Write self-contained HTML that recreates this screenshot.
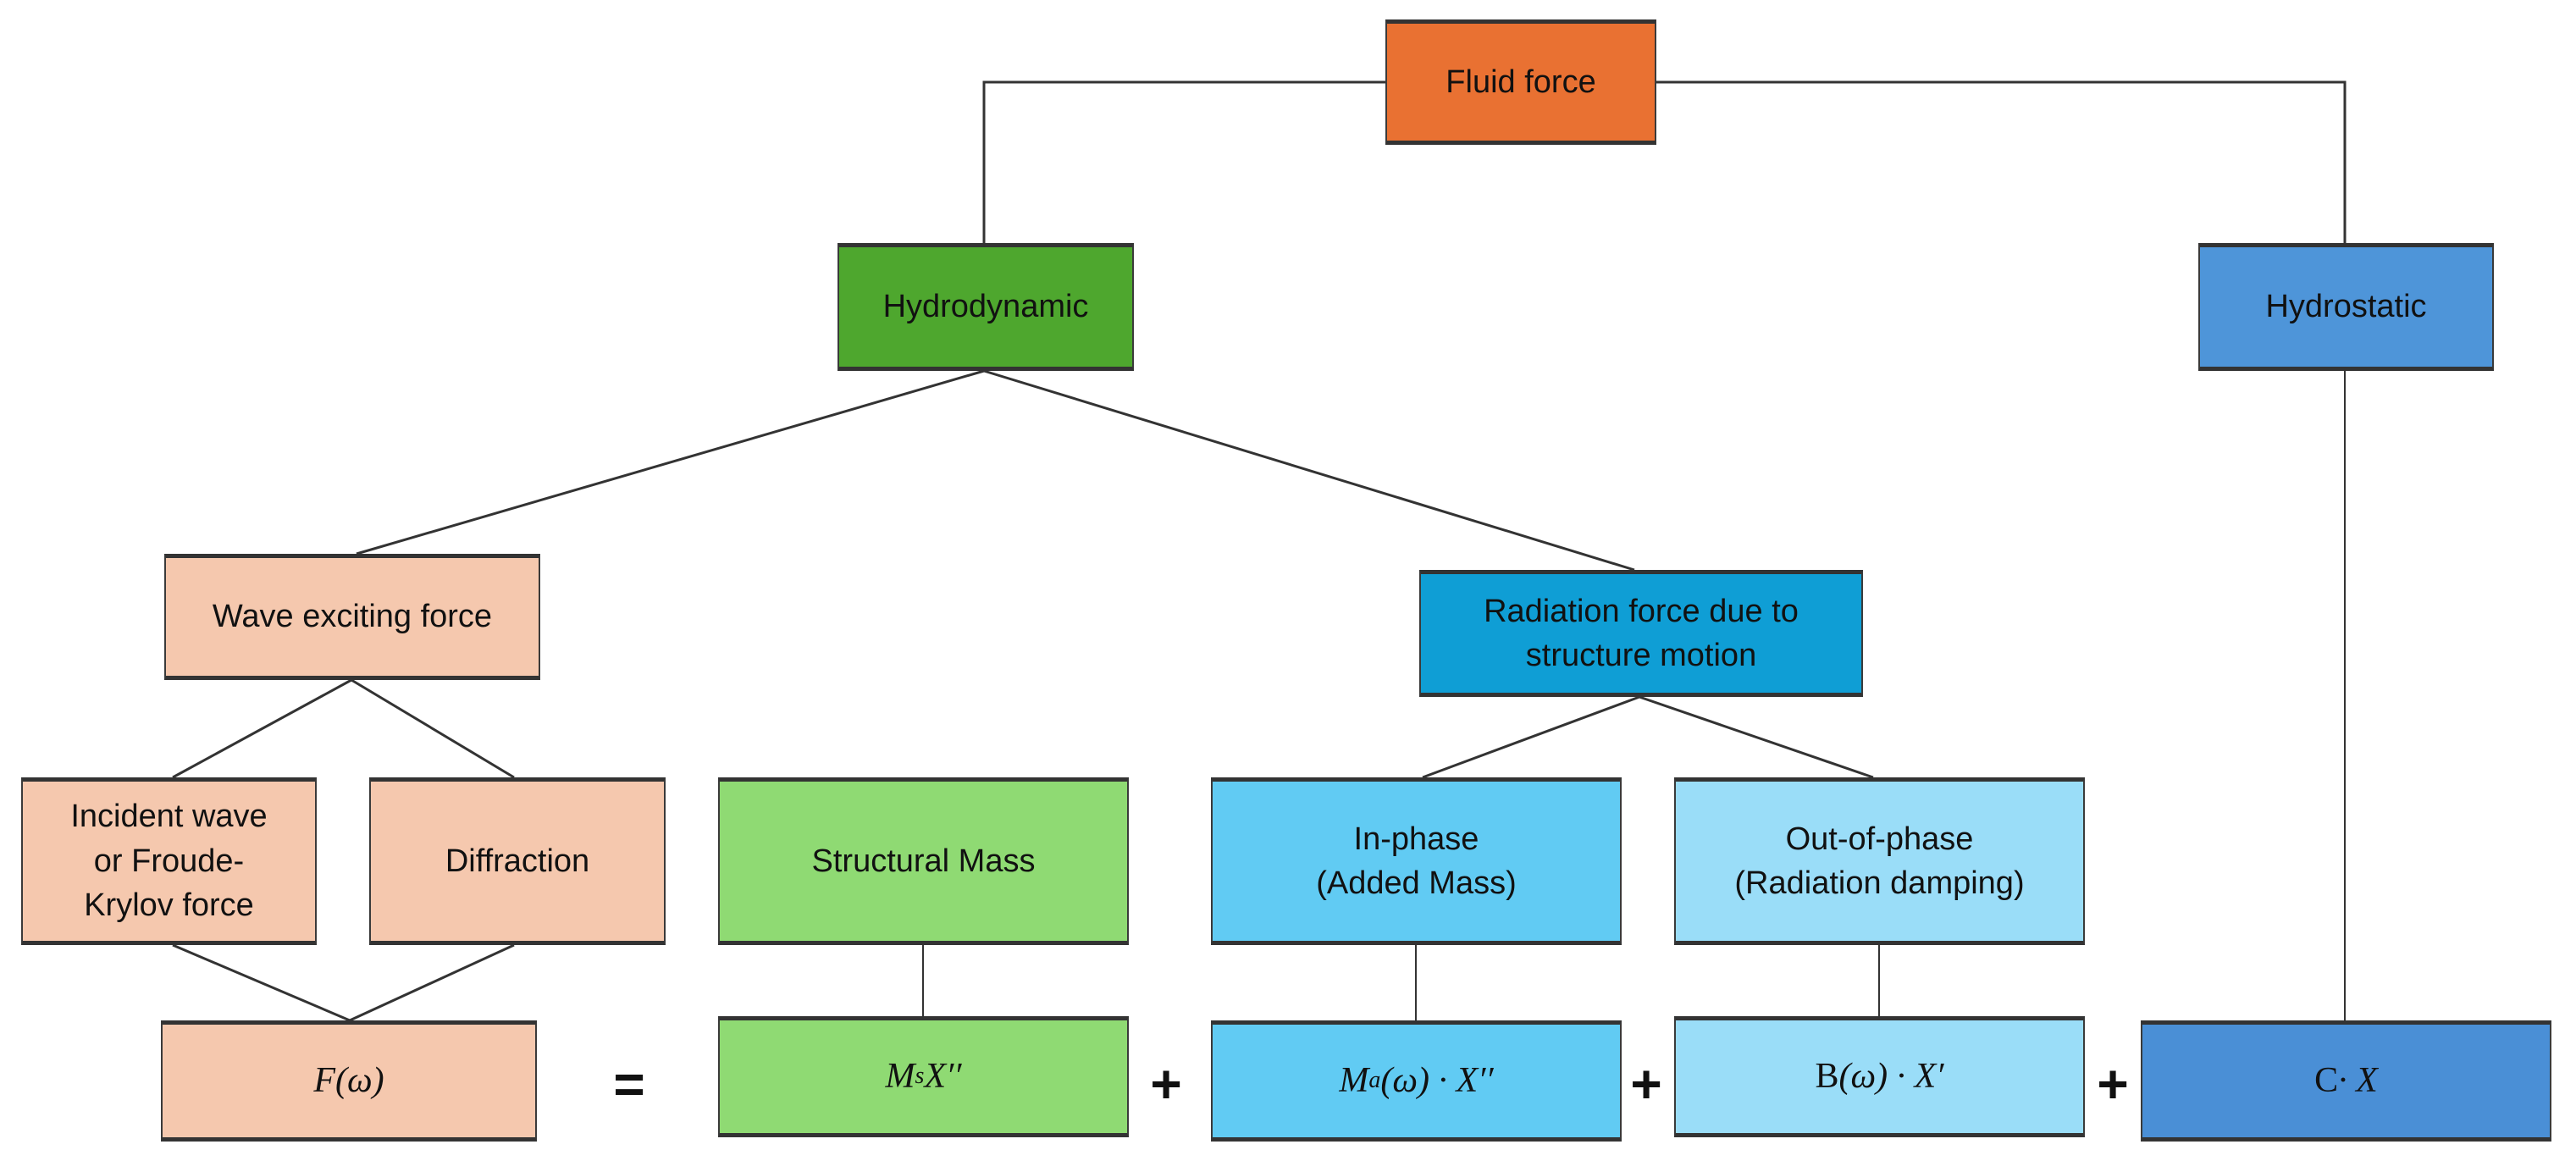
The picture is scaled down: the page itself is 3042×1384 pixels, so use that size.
<!DOCTYPE html>
<html><head><meta charset="utf-8"><style>
body{margin:0;width:3042px;height:1384px;background:#fff;position:relative;overflow:hidden;font-family:"Liberation Sans",sans-serif}
.b{position:absolute;display:flex;align-items:center;justify-content:center;text-align:center;box-sizing:border-box;border:2px solid #3a3a3a;border-top:5px solid #333;border-bottom:5px solid #333;font-size:38px;line-height:1.38;color:#111}
.m{font-family:"Liberation Serif",serif;font-style:italic;font-size:42px}
.m sub{font-size:28px;vertical-align:-8px}
.op{position:absolute;font-size:64px;font-weight:bold;color:#111;transform:translate(-50%,-50%)}
svg{position:absolute;left:0;top:0}
</style></head><body>
<svg width="3042" height="1384"><g stroke="#333" stroke-width="3" fill="none">
<polyline points="1636,97 1162,97 1162,287"/>
<polyline points="1956,97 2769,97 2769,287"/>
<line x1="2769" y1="438" x2="2769" y2="1205" stroke-width="2"/>
<line x1="1162" y1="438" x2="421" y2="654"/>
<line x1="1162" y1="438" x2="1930" y2="673"/>
<line x1="415" y1="803" x2="204" y2="918"/>
<line x1="415" y1="803" x2="607" y2="918"/>
<line x1="1936" y1="823" x2="1680" y2="918"/>
<line x1="1936" y1="823" x2="2212" y2="918"/>
<line x1="204" y1="1116" x2="413" y2="1205"/>
<line x1="607" y1="1116" x2="413" y2="1205"/>
<line x1="1090" y1="1116" x2="1090" y2="1205" stroke-width="2"/>
<line x1="1672" y1="1116" x2="1672" y2="1205" stroke-width="2"/>
<line x1="2219" y1="1116" x2="2219" y2="1205" stroke-width="2"/>
</g></svg>
<div class="b" style="left:1636px;top:23px;width:320px;height:148px;background:#E97132">Fluid force</div>
<div class="b" style="left:989px;top:287px;width:350px;height:151px;background:#4EA72E">Hydrodynamic</div>
<div class="b" style="left:2596px;top:287px;width:349px;height:151px;background:#4E95D9">Hydrostatic</div>
<div class="b" style="left:194px;top:654px;width:444px;height:149px;background:#F5C8AE">Wave exciting force</div>
<div class="b" style="left:1676px;top:673px;width:524px;height:150px;background:#0F9ED5">Radiation force due to<br>structure motion</div>
<div class="b" style="left:25px;top:918px;width:349px;height:198px;background:#F5C8AE">Incident wave<br>or Froude-<br>Krylov force</div>
<div class="b" style="left:436px;top:918px;width:350px;height:198px;background:#F5C8AE">Diffraction</div>
<div class="b" style="left:848px;top:918px;width:485px;height:198px;background:#8FDA73">Structural Mass</div>
<div class="b" style="left:1430px;top:918px;width:485px;height:198px;background:#61CBF3">In-phase<br>(Added Mass)</div>
<div class="b" style="left:1977px;top:918px;width:485px;height:198px;background:#9ADDF8">Out-of-phase<br>(Radiation damping)</div>
<div class="b m" style="left:190px;top:1205px;width:444px;height:143px;background:#F5C8AE">F(ω)</div>
<div class="b m" style="left:848px;top:1200px;width:485px;height:143px;background:#8FDA73">M<sub>s</sub>X′′</div>
<div class="b m" style="left:1430px;top:1205px;width:485px;height:143px;background:#61CBF3">M<sub>a</sub>(ω) · X′′</div>
<div class="b m" style="left:1977px;top:1200px;width:485px;height:143px;background:#9ADDF8"><span style="font-style:normal">B</span>(ω) · X′</div>
<div class="b m" style="left:2528px;top:1205px;width:485px;height:143px;background:#4A8FD6"><span style="font-style:normal">C</span>· X</div>
<div class="op" style="left:743px;top:1280px">=</div>
<div class="op" style="left:1377px;top:1280px">+</div>
<div class="op" style="left:1944px;top:1280px">+</div>
<div class="op" style="left:2495px;top:1280px">+</div>
</body></html>
